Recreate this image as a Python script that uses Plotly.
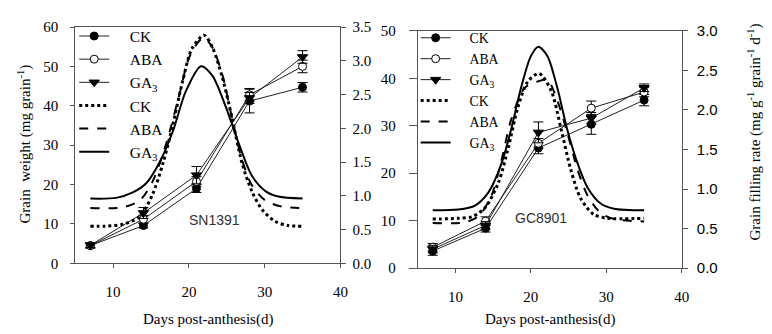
import plotly.graph_objects as go

days = [7, 14, 21, 28, 35]

# Left panel SN1391 - grain weight (mg grain-1)
sn_ck = [4.5, 9.6, 19.0, 41.2, 44.7]
sn_ck_err = [0.6, 0.6, 1.0, 3.0, 1.2]
sn_aba = [4.5, 11.2, 20.8, 42.8, 50.0]
sn_aba_err = [0.6, 1.0, 1.2, 1.6, 1.6]
sn_ga = [4.6, 12.8, 22.4, 42.0, 52.4]
sn_ga_err = [0.6, 1.4, 2.2, 1.4, 1.6]

# Left panel SN1391 - grain filling rate curves
sn_ck_rd = [7, 9, 11.3, 13.5, 15.2, 16.6, 17.9, 19.2, 20.4, 22, 23.1, 24.4, 25.7, 27, 28.3, 29.7, 31.4, 33.1, 35]
sn_ck_rate = [0.55, 0.55, 0.58, 0.69, 1.02, 1.49, 2.06, 2.71, 3.18, 3.38, 3.2, 2.76, 2.15, 1.49, 1.07, 0.79, 0.62, 0.56, 0.55]
sn_aba_rd = [7, 11.3, 13.5, 15.2, 17, 18.7, 20, 21.4, 22, 23.1, 24.4, 25.7, 27, 28.3, 30.1, 32.3, 35]
sn_aba_rate = [0.82, 0.83, 0.93, 1.21, 1.77, 2.48, 3.04, 3.30, 3.34, 3.2, 2.8, 2.15, 1.54, 1.16, 0.93, 0.84, 0.82]
sn_ga_rd = [7, 10.4, 12.6, 14.4, 16.1, 17.9, 19.6, 21.6, 23.1, 24.8, 26.6, 28.3, 30.1, 31.8, 35]
sn_ga_rate = [0.96, 0.97, 1.05, 1.19, 1.49, 1.96, 2.55, 2.92, 2.78, 2.34, 1.77, 1.30, 1.07, 0.99, 0.96]

# Right panel GC8901 - grain weight
gc_ck = [3.6, 8.4, 25.3, 30.3, 35.4]
gc_ck_err = [0.9, 0.8, 1.2, 2.1, 1.2]
gc_aba = [4.4, 9.9, 26.3, 33.7, 37.1]
gc_aba_err = [0.8, 0.9, 1.0, 1.5, 1.0]
gc_ga = [4.0, 9.0, 28.6, 31.6, 38.0]
gc_ga_err = [0.8, 0.8, 2.2, 1.2, 0.8]

# Right panel GC8901 - grain filling rate curves
gc_ga_rd = [7, 10.4, 12.6, 14.4, 16.1, 17.4, 18.7, 20, 21, 22.2, 23.5, 24.8, 26.2, 27.5, 29.2, 31, 35]
gc_ga_rate = [0.73, 0.74, 0.79, 0.96, 1.32, 1.76, 2.28, 2.68, 2.80, 2.68, 2.28, 1.76, 1.32, 1.02, 0.82, 0.75, 0.73]
gc_ck_rd = [7, 10.4, 12.2, 13.9, 15.7, 17, 18.3, 19.6, 21.1, 22.7, 24, 25.3, 26.6, 28.3, 30.1, 35]
gc_ck_rate = [0.62, 0.63, 0.65, 0.76, 1.08, 1.52, 2.04, 2.36, 2.46, 2.24, 1.76, 1.24, 0.88, 0.68, 0.63, 0.63]
gc_aba_rd = [7, 11.3, 13.1, 14.8, 16.1, 17.4, 19.2, 20.9, 22.2, 23.5, 24.8, 26.2, 27.5, 29.2, 31, 35]
gc_aba_rate = [0.57, 0.58, 0.66, 0.92, 1.36, 1.88, 2.28, 2.36, 2.38, 2.12, 1.72, 1.24, 0.92, 0.70, 0.62, 0.59]

names = ["CK", "ABA", "GA<sub>3</sub>"]
SERIF = "Liberation Serif"
SANS = "Liberation Sans"
NB = "\u00a0"

fig = go.Figure()


def add_panel(xa, ya, ya2, legend, wt, rates, pad):
    dashes = ["dot", "dash", "solid"]
    widths = [3, 2, 2]
    for i, (rd, rv) in enumerate(rates):
        fig.add_trace(go.Scatter(
            x=rd, y=rv, mode="lines", name=NB * pad + names[i],
            line=dict(color="black", width=widths[i], dash=dashes[i], shape="spline", smoothing=0.8),
            xaxis=xa, yaxis=ya2, legend=legend, legendrank=10 + i))
    symbols = [dict(symbol="circle", color="black", size=8, line=dict(color="black", width=1)),
               dict(symbol="circle", color="white", size=8, line=dict(color="black", width=1)),
               dict(symbol="triangle-down", color="black", size=9, line=dict(color="black", width=1))]
    for i, (vals, err) in enumerate(wt):
        fig.add_trace(go.Scatter(
            x=days, y=vals, mode="lines+markers", name=NB * pad + names[i],
            line=dict(color="#222", width=1), marker=symbols[i],
            error_y=dict(type="data", array=err, color="black", thickness=1, width=5),
            xaxis=xa, yaxis=ya, legend=legend, legendrank=i))


add_panel("x", "y", "y2", "legend",
          [(sn_ck, sn_ck_err), (sn_aba, sn_aba_err), (sn_ga, sn_ga_err)],
          [(sn_ck_rd, sn_ck_rate), (sn_aba_rd, sn_aba_rate), (sn_ga_rd, sn_ga_rate)], 4)
add_panel("x2", "y3", "y4", "legend2",
          [(gc_ck, gc_ck_err), (gc_aba, gc_aba_err), (gc_ga, gc_ga_err)],
          [(gc_ck_rd, gc_ck_rate), (gc_aba_rd, gc_aba_rate), (gc_ga_rd, gc_ga_rate)], 4)

W, H = 772, 334
L1x0, L1x1, L1yt, L1yb = 76, 344, 19, 268
R1x0, R1x1, R1yt, R1yb = 422, 689, 23, 273
ax_col = "#555"
tf_serif = dict(family=SERIF, size=15, color="black")
tf_sans = dict(family=SANS, size=15, color="black")

common_x = dict(range=[5, 40], tickvals=[10, 20, 30, 40], showline=True, linecolor=ax_col, linewidth=1,
                mirror=True, ticks="outside", ticklen=4, tickcolor=ax_col, showgrid=False, zeroline=False,
                tickfont=tf_serif, ticklabelstandoff=11)


def yax(dom, anchor, rng, dtick, side="left", overlay=None, tf=tf_serif, ticklen=4, standoff=4, fmt=None):
    d = dict(domain=dom, anchor=anchor, range=rng, dtick=dtick, side=side,
             showline=True, linecolor=ax_col, ticks="outside", ticklen=ticklen, tickcolor=ax_col,
             showgrid=False, zeroline=False, tickfont=tf, ticklabelstandoff=standoff)
    if overlay:
        d["overlaying"] = overlay
    if fmt:
        d["tickformat"] = fmt
    return d


domL = [1 - L1yb / H, 1 - L1yt / H]
domR = [1 - R1yb / H, 1 - R1yt / H]

fig.update_layout(
    width=W, height=H, margin=dict(l=0, r=0, t=0, b=0),
    paper_bgcolor="white", plot_bgcolor="white",
    xaxis=dict(domain=[L1x0 / W, L1x1 / W], anchor="y", **common_x),
    xaxis2=dict(domain=[R1x0 / W, R1x1 / W], anchor="y3", **common_x),
    yaxis=yax(domL, "x", [0, 60], 10, ticklen=4, standoff=9),
    yaxis2=yax(domL, "x", [0, 3.5], 0.5, side="right", overlay="y", ticklen=5, standoff=3, fmt=".1f"),
    yaxis3=yax(domR, "x2", [0, 50], 10, ticklen=8, standoff=10),
    yaxis4=yax(domR, "x2", [0, 3.0], 0.5, side="right", overlay="y3", tf=tf_sans, ticklen=5, standoff=6,
               fmt=".1f"),
    legend=dict(x=75 / W, y=1 - 11 / H, xanchor="left", yanchor="top",
                bgcolor="rgba(0,0,0,0)", font=dict(family=SERIF, size=15.5, color="black"),
                traceorder="normal", tracegroupgap=0),
    legend2=dict(x=420 / W, y=1 - 14 / H, xanchor="left", yanchor="top",
                 bgcolor="rgba(0,0,0,0)", font=dict(family=SERIF, size=13.8, color="black"),
                 traceorder="normal", tracegroupgap=0),
    showlegend=True,
)

ann_common = dict(xref="paper", yref="paper", showarrow=False, xanchor="center", yanchor="middle")
ann = [
    dict(text="Days post-anthesis(d)", x=(L1x0 + L1x1) / 2 / W, y=1 - 327 / H,
         font=dict(family=SERIF, size=15, color="black"), **ann_common),
    dict(text="Days post-anthesis(d)", x=(R1x0 + R1x1) / 2 / W, y=1 - 327 / H,
         font=dict(family=SERIF, size=15, color="black"), **ann_common),
    dict(text="Grain  weight (mg grain<sup>-1</sup>)", x=25 / W, y=1 - 142 / H, textangle=-90,
         font=dict(family=SERIF, size=15, color="black"), **ann_common),
    dict(text="Grain filling rate (mg g<sup>-1</sup> grain<sup>-1</sup> d<sup>-1</sup>)", x=762 / W, y=1 - 130 / H,
         textangle=-90, font=dict(family=SERIF, size=15, color="black"), **ann_common),
    dict(text="SN1391", x=217 / W, y=1 - 222 / H,
         font=dict(family=SANS, size=14, color="#333"), **ann_common),
    dict(text="GC8901", x=547 / W, y=1 - 220 / H,
         font=dict(family=SANS, size=14, color="#333"), **ann_common),
]
fig.update_layout(annotations=ann)

fig.write_html("out.html")
